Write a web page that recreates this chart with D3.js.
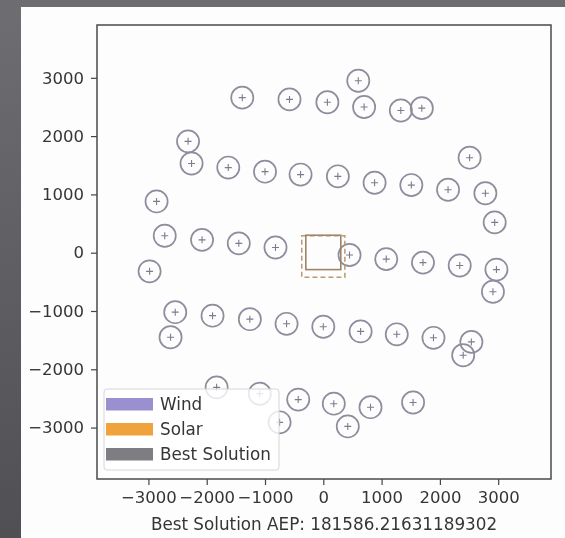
<!DOCTYPE html>
<html>
<head>
<meta charset="utf-8">
<script src="https://cdn.jsdelivr.net/npm/d3@7"></script>
<style>
  html, body { margin: 0; padding: 0; background: #5e5e62; }
  #chart svg { display: block; filter: blur(0.35px); }
</style>
</head>
<body>
<div id="chart"></div>
<script>
// turbine positions (m)
const windX = [-1390, -580, 70, 600, 700, 1330, 1690,
  -2320, -2260, -1630, -1000, -390, 250, 880, 1510, 2140, 2780, 2510, 2940, -2860,
  -2720, -2080, -1450, -820, -2980, 450, 1080, 1710, 2340, 2970, 2910,
  -2540, -2620, -1900, -1260, -630, 0, 640, 1260, 1890, 2540, 2400,
  -1830, -1090, -750, -430, 180, 420, 810, 1540];
const windY = [2660, 2630, 2580, 2950, 2500, 2440, 2480,
  1910, 1530, 1460, 1390, 1340, 1310, 1200, 1160, 1080, 1020, 1630, 520, 880,
  290, 220, 160, 90, -320, -40, -110, -170, -220, -290, -670,
  -1020, -1450, -1080, -1140, -1220, -1270, -1350, -1400, -1460, -1530, -1760,
  -2310, -2420, -2910, -2520, -2590, -2980, -2650, -2570];
const rotorRadius = 190;

// solar plant: panel square and its dashed buffer
const solarX = [-300, 300];
const solarY = [-290, 300];
const bufferX = [-370, 370];
const bufferY = [-420, 290];

const xTicks = [-3000, -2000, -1000, 0, 1000, 2000, 3000];
const yTicks = [-3000, -2000, -1000, 0, 1000, 2000, 3000];
const legendLabels = ['Wind', 'Solar', 'Best Solution'];
const legendColors = ['#9b90cf', '#f0a23c', '#7e7e82'];
const aep = '181586.21631189302';

const width = 565;
const height = 538;
const margin = { top: 25, right: 14, bottom: 59, left: 97 };
const font = "'DejaVu Sans', sans-serif";
const tickFmt = (d) => (d < 0 ? '\u2212' + Math.abs(d) : String(d));

const svg = d3.select('#chart')
  .append('svg')
  .attr('width', width)
  .attr('height', height);

// photo backdrop: grey slide edge, white page
const bg = svg.append('defs').append('linearGradient')
  .attr('id', 'edge')
  .attr('x1', 0).attr('y1', 0).attr('x2', 0).attr('y2', 1);
bg.append('stop').attr('offset', '0%').attr('stop-color', '#6e6e72');
bg.append('stop').attr('offset', '100%').attr('stop-color', '#4f4f54');
svg.append('rect').attr('width', width).attr('height', height).attr('fill', 'url(#edge)');
svg.append('rect').attr('x', 0).attr('y', 0).attr('width', width).attr('height', 7).attr('fill', '#6d6d71');
svg.append('rect').attr('x', 21).attr('y', 7).attr('width', width - 21).attr('height', height - 7).attr('fill', '#fdfdfd');

const x = d3.scaleLinear()
  .domain([-3882, 3906])
  .range([margin.left, width - margin.right]);
const y = d3.scaleLinear()
  .domain([-3882, 3906])
  .range([height - margin.bottom, margin.top]);

const plot = svg.append('g').attr('class', 'plot');

// turbines
const turbines = plot.selectAll('.turbine')
  .data(windX.map((d, i) => ({ x: d, y: windY[i] })))
  .enter()
  .append('g')
  .attr('class', 'turbine')
  .attr('transform', (d) => `translate(${x(d.x)},${y(d.y)})`);

turbines.append('circle')
  .attr('r', x(rotorRadius) - x(0))
  .attr('fill', 'none')
  .attr('stroke', '#8f8d9d')
  .attr('stroke-width', 1.7);

turbines.append('path')
  .attr('d', 'M-3.5,0H3.5M0,-3.5V3.5')
  .attr('stroke', '#7d7b90')
  .attr('stroke-width', 1.1);

// solar area
plot.append('rect')
  .attr('x', x(bufferX[0]))
  .attr('y', y(bufferY[1]))
  .attr('width', x(bufferX[1]) - x(bufferX[0]))
  .attr('height', y(bufferY[0]) - y(bufferY[1]))
  .attr('fill', 'none')
  .attr('stroke', '#b99a72')
  .attr('stroke-width', 1.5)
  .attr('stroke-dasharray', '5,3');

plot.append('rect')
  .attr('x', x(solarX[0]))
  .attr('y', y(solarY[1]))
  .attr('width', x(solarX[1]) - x(solarX[0]))
  .attr('height', y(solarY[0]) - y(solarY[1]))
  .attr('fill', 'none')
  .attr('stroke', '#9f8566')
  .attr('stroke-width', 1.6);

// axes
const xAxis = svg.append('g')
  .attr('transform', `translate(0,${height - margin.bottom})`)
  .call(d3.axisBottom(x).tickValues(xTicks).tickFormat(tickFmt).tickSize(6).tickPadding(6));
const yAxis = svg.append('g')
  .attr('transform', `translate(${margin.left},0)`)
  .call(d3.axisLeft(y).tickValues(yTicks).tickFormat(tickFmt).tickSize(6).tickPadding(7));

[xAxis, yAxis].forEach((ax) => {
  ax.select('.domain').remove();
  ax.selectAll('line').attr('stroke', '#444').attr('stroke-width', 1.2);
  ax.selectAll('text')
    .attr('fill', '#353535')
    .style('font-family', font)
    .style('font-size', '16.5px');
});

// frame
svg.append('rect')
  .attr('x', margin.left)
  .attr('y', margin.top)
  .attr('width', width - margin.left - margin.right)
  .attr('height', height - margin.top - margin.bottom)
  .attr('fill', 'none')
  .attr('stroke', '#4a4a4a')
  .attr('stroke-width', 1.5);

svg.append('text')
  .attr('x', (margin.left + width - margin.right) / 2)
  .attr('y', 530)
  .attr('text-anchor', 'middle')
  .attr('fill', '#353535')
  .style('font-family', font)
  .style('font-size', '16.8px')
  .text(`Best Solution AEP: ${aep}`);

// legend
const legend = svg.append('g').attr('transform', 'translate(104,389)');
legend.append('rect')
  .attr('width', 175)
  .attr('height', 81)
  .attr('rx', 3)
  .attr('fill', 'rgba(255,255,255,0.8)')
  .attr('stroke', '#d6d6d6');

const items = legend.selectAll('.legend-item')
  .data(legendLabels)
  .enter()
  .append('g')
  .attr('class', 'legend-item')
  .attr('transform', (d, i) => `translate(0,${9 + i * 25})`);

items.append('rect')
  .attr('x', 2)
  .attr('width', 47)
  .attr('height', 12.5)
  .attr('fill', (d, i) => legendColors[i]);

items.append('text')
  .attr('x', 56)
  .attr('y', 6.5)
  .attr('dy', '0.35em')
  .attr('fill', '#353535')
  .style('font-family', font)
  .style('font-size', '16.8px')
  .text((d) => d);
</script>
</body>
</html>
